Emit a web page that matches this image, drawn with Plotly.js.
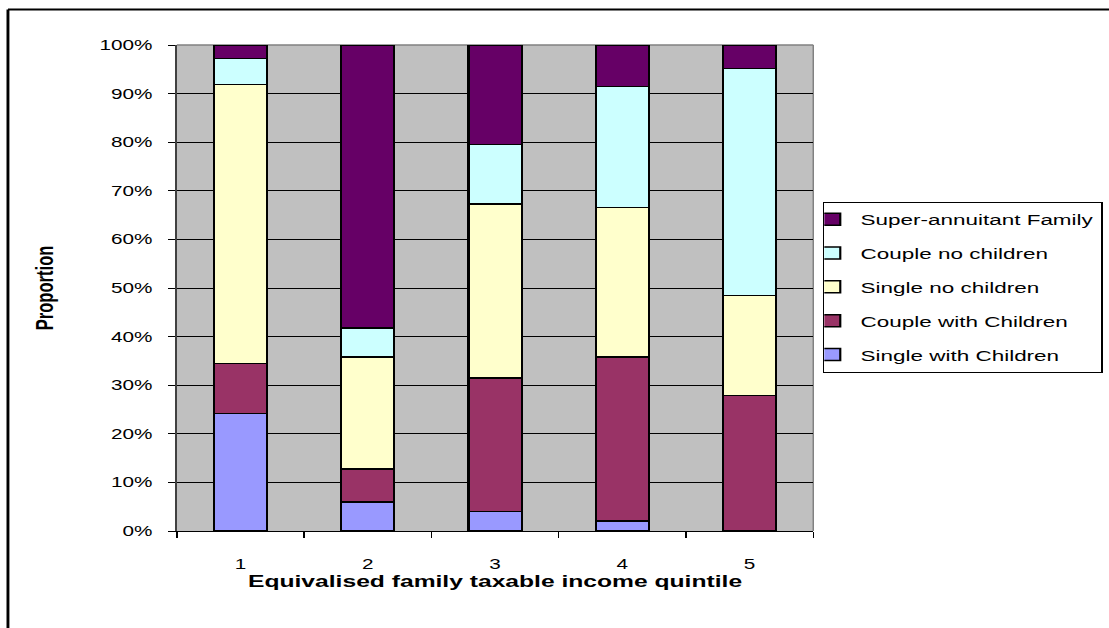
<!DOCTYPE html>
<html>
<head>
<meta charset="utf-8">
<script src="https://cdn.plot.ly/plotly-3.0.1.min.js"></script>
<style>
  html, body { margin: 0; padding: 0; background: #ffffff; overflow: hidden; }
  #wrap { width: 1109px; height: 628px; overflow: hidden; }
  /* the chart is laid out narrow and widened to the full page width */
  #chart { width: 765px; height: 628px; transform: scaleX(1.44967); transform-origin: 0 0; }
</style>
</head>
<body>
<div id="wrap"><div id="chart"></div></div>
<script>
// Family type shares (%) by equivalised family taxable income quintile
const quintiles = ["1", "2", "3", "4", "5"];
const singleWithChildren = [24.2, 6.0, 4.0, 2.1, 0.0];
const coupleWithChildren = [10.3, 6.8, 27.5, 33.7, 27.9];
const singleNoChildren = [57.4, 23.0, 35.8, 30.8, 20.6];
const coupleNoChildren = [5.3, 6.0, 12.2, 24.9, 46.7];
const superAnnuitantFamily = [2.8, 58.2, 20.5, 8.5, 4.8];

const seriesNames = ["Single with Children", "Couple with Children", "Single no children",
                     "Couple no children", "Super-annuitant Family"];
const seriesValues = [singleWithChildren, coupleWithChildren, singleNoChildren,
                      coupleNoChildren, superAnnuitantFamily];
const seriesColors = ["#9999FF", "#993366", "#FFFFCC", "#CCFFFF", "#660066"];

const yTicks = [0, 10, 20, 30, 40, 50, 60, 70, 80, 90, 100];

const FONT = "Liberation Sans, Arial, sans-serif";

// first series sits at the bottom of each stack; the legend lists them top-down
const traces = seriesNames.map((name, i) => ({
  type: "bar",
  name: name,
  x: quintiles,
  y: seriesValues[i],
  legendgroup: "g" + i,
  legendrank: 1000 - i,
  marker: { color: seriesColors[i], line: { color: "#000000", width: 1.5 } },
  hoverinfo: "name+y"
}));

const layout = {
  width: 765,
  height: 628,
  margin: { l: 122, r: 204, t: 45, b: 97, autoexpand: false },
  paper_bgcolor: "#ffffff",
  plot_bgcolor: "#C0C0C0",
  barmode: "stack",
  bargap: 0.583,
  font: { family: FONT, color: "#000000", size: 14 },
  showlegend: true,
  legend: {
    xref: "container", yref: "container",
    x: 0.742, xanchor: "left",
    y: 0.679, yanchor: "top",
    traceorder: "grouped",
    tracegroupgap: 10.7,
    indentation: -15,
    bgcolor: "#ffffff",
    bordercolor: "#000000",
    borderwidth: 1,
    font: { family: FONT, size: 15.5, color: "#000000" },
    itemwidth: 30
  },
  xaxis: {
    type: "category",
    tickson: "boundaries",
    ticks: "outside",
    ticklen: 6,
    tickcolor: "#000000",
    showgrid: false,
    showline: true,
    linecolor: "#000000",
    linewidth: 1,
    tickfont: { family: FONT, size: 14.3 },
    ticklabelstandoff: 20,
    title: {
      text: "Equivalised family taxable income quintile",
      font: { family: FONT, size: 17, weight: "bold" },
      standoff: 0
    },
    automargin: true,
    fixedrange: true
  },
  yaxis: {
    range: [0, 100],
    tickvals: yTicks,
    ticktext: yTicks.map(v => v + "%"),
    ticks: "outside",
    ticklen: 5,
    tickcolor: "#000000",
    showgrid: true,
    gridcolor: "#000000",
    gridwidth: 1,
    zeroline: false,
    showline: true,
    linecolor: "#404040",
    linewidth: 1,
    tickfont: { family: FONT, size: 14.3 },
    ticklabelstandoff: 8,
    title: {
      text: "Proportion",
      font: { family: FONT, size: 16.6, weight: "bold" },
      standoff: 27
    },
    automargin: true,
    fixedrange: true
  },
  shapes: [
    // grey frame on the open sides of the plot area
    { type: "line", xref: "paper", yref: "paper", x0: 0, x1: 1, y0: 1, y1: 1,
      line: { color: "#808080", width: 1.5 }, layer: "between" },
    { type: "line", xref: "paper", yref: "paper", x0: 1, x1: 1, y0: 0, y1: 1,
      line: { color: "#808080", width: 1 }, layer: "between" },
    // outer chart border along the top and left
    { type: "line", xref: "paper", yref: "paper", x0: -0.2654, x1: 1.6, y0: 1.0731, y1: 1.0731,
      line: { color: "#000000", width: 2 } },
    { type: "line", xref: "paper", yref: "paper", x0: -0.2654, x1: -0.2654, y0: 1.0731, y1: -0.3,
      line: { color: "#000000", width: 2 } }
  ]
};

Plotly.newPlot("chart", traces, layout, { displayModeBar: false, staticPlot: true });
</script>
</body>
</html>
